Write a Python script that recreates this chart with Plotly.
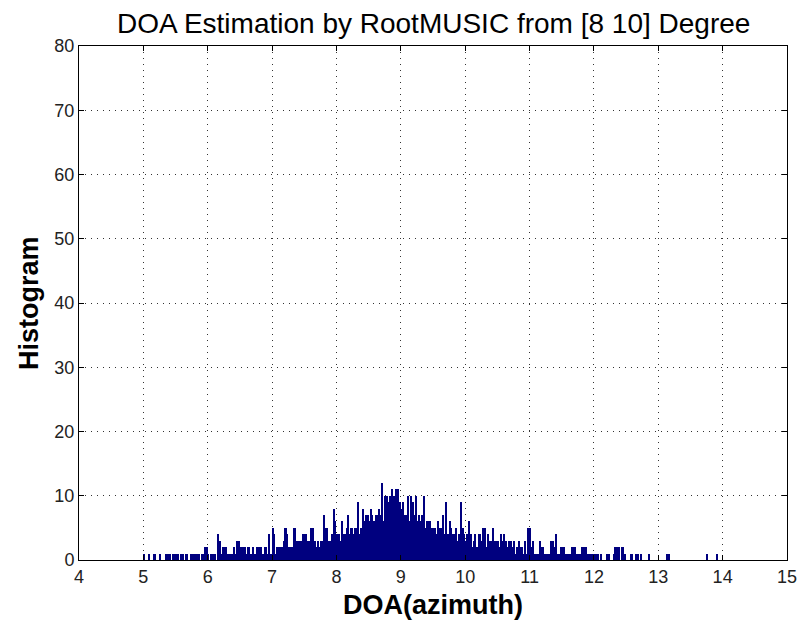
import plotly.graph_objects as go

# Histogram of RootMUSIC azimuth estimates, bin width 0.025 degree.
BIN_WIDTH = 0.025

# counts per bin, one list per one-degree span (40 bins each)
counts_5 = [1, 0, 0, 1, 0, 0, 1, 1, 0, 0, 1, 0, 0, 0, 1, 1, 1, 0, 1, 1,
            1, 1, 0, 1, 1, 0, 1, 1, 0, 1, 1, 1, 1, 1, 1, 0, 1, 1, 2, 2]
counts_6 = [1, 0, 1, 1, 1, 0, 4, 3, 1, 2, 2, 2, 1, 1, 1, 1, 2, 1, 3, 3,
            2, 2, 2, 2, 1, 2, 1, 1, 2, 1, 2, 2, 2, 2, 1, 2, 2, 1, 4, 1]
counts_7 = [5, 4, 1, 2, 2, 2, 2, 3, 5, 4, 2, 2, 2, 5, 5, 3, 3, 3, 3, 4,
            4, 4, 3, 3, 5, 5, 3, 2, 3, 2, 3, 3, 7, 5, 5, 3, 3, 4, 8, 6]
counts_8 = [4, 4, 3, 6, 4, 4, 5, 7, 4, 5, 4, 5, 5, 9, 4, 5, 8, 6, 7, 7,
            6, 8, 7, 6, 7, 7, 8, 7, 12, 6, 10, 10, 9, 10, 11, 10, 10, 11, 11, 9]
counts_9 = [8, 9, 7, 7, 10, 6, 10, 9, 7, 10, 6, 7, 6, 7, 10, 5, 6, 6, 6, 5,
            5, 5, 4, 6, 5, 5, 7, 4, 9, 4, 6, 5, 4, 4, 5, 3, 4, 9, 5, 4]
counts_10 = [3, 4, 6, 4, 2, 3, 4, 2, 4, 4, 3, 5, 5, 2, 4, 3, 3, 5, 3, 3,
             3, 2, 4, 3, 4, 3, 2, 3, 3, 2, 3, 1, 2, 3, 2, 2, 1, 3, 1, 5]
counts_11 = [5, 2, 3, 1, 1, 1, 3, 2, 2, 1, 1, 1, 1, 3, 3, 2, 4, 1, 1, 2,
             2, 2, 1, 1, 1, 1, 2, 2, 2, 1, 1, 1, 2, 2, 2, 2, 1, 1, 1, 1]
counts_12 = [1, 1, 1, 0, 1, 0, 0, 0, 1, 1, 0, 0, 1, 2, 2, 2, 0, 2, 2, 1,
             0, 0, 0, 1, 0, 0, 1, 1, 0, 1, 0, 0, 0, 0, 1, 0, 0, 0, 0, 0]
counts_13 = [0, 0, 0, 0, 0, 1, 1, 0, 0, 0, 0, 0, 0, 0, 0, 0, 0, 0, 0, 0,
             0, 0, 0, 0, 0, 0, 0, 0, 0, 0, 1, 0, 0, 0, 0, 0, 1, 0, 0, 0]

spans = [(5, counts_5), (6, counts_6), (7, counts_7), (8, counts_8),
         (9, counts_9), (10, counts_10), (11, counts_11), (12, counts_12),
         (13, counts_13)]

x_vals, y_vals = [], []
for start, counts in spans:
    for i, c in enumerate(counts):
        x_vals.append(start + (i + 0.5) * BIN_WIDTH)
        y_vals.append(c)

x_ticks = list(range(4, 16))
y_ticks = list(range(0, 90, 10))

W, H = 809, 626
L, R, T, B = 79, 14, 46, 66
FONT = "Liberation Sans, Arial, sans-serif"

fig = go.Figure(go.Bar(
    x=x_vals, y=y_vals, width=BIN_WIDTH,
    marker=dict(color="#00007F", line=dict(width=0)),
    hoverinfo="x+y",
))

axis_common = dict(
    showline=True, linecolor="black", linewidth=1, mirror="allticks",
    ticks="inside", ticklen=5, tickcolor="black",
    showgrid=True, gridcolor="#333", griddash="1px,5px", gridwidth=1,
    zeroline=False,
    tickfont=dict(family=FONT, size=18, color="#222"),
)

fig.update_layout(
    width=W, height=H,
    margin=dict(l=L, r=R, t=T, b=B),
    paper_bgcolor="white", plot_bgcolor="white",
    bargap=0, showlegend=False,
    xaxis=dict(range=[4, 15], tickvals=x_ticks, **axis_common),
    yaxis=dict(range=[0, 80], tickvals=y_ticks, **axis_common),
    annotations=[
        dict(text="DOA Estimation by RootMUSIC from [8 10] Degree",
             xref="paper", yref="paper", x=0.5, y=1,
             yshift=23, showarrow=False, xanchor="center", yanchor="middle",
             font=dict(family=FONT, size=28, color="black")),
        dict(text="<b>DOA(azimuth)</b>",
             xref="paper", yref="paper", x=0.5, y=0,
             yshift=-45, showarrow=False, xanchor="center", yanchor="middle",
             font=dict(family=FONT, size=27, color="black")),
        dict(text="<b>Histogram</b>", textangle=-90,
             xref="paper", yref="paper", x=0, xshift=-50, y=0.5,
             showarrow=False, xanchor="center", yanchor="middle",
             font=dict(family=FONT, size=27, color="black")),
    ],
)

fig.write_html("out.html")
